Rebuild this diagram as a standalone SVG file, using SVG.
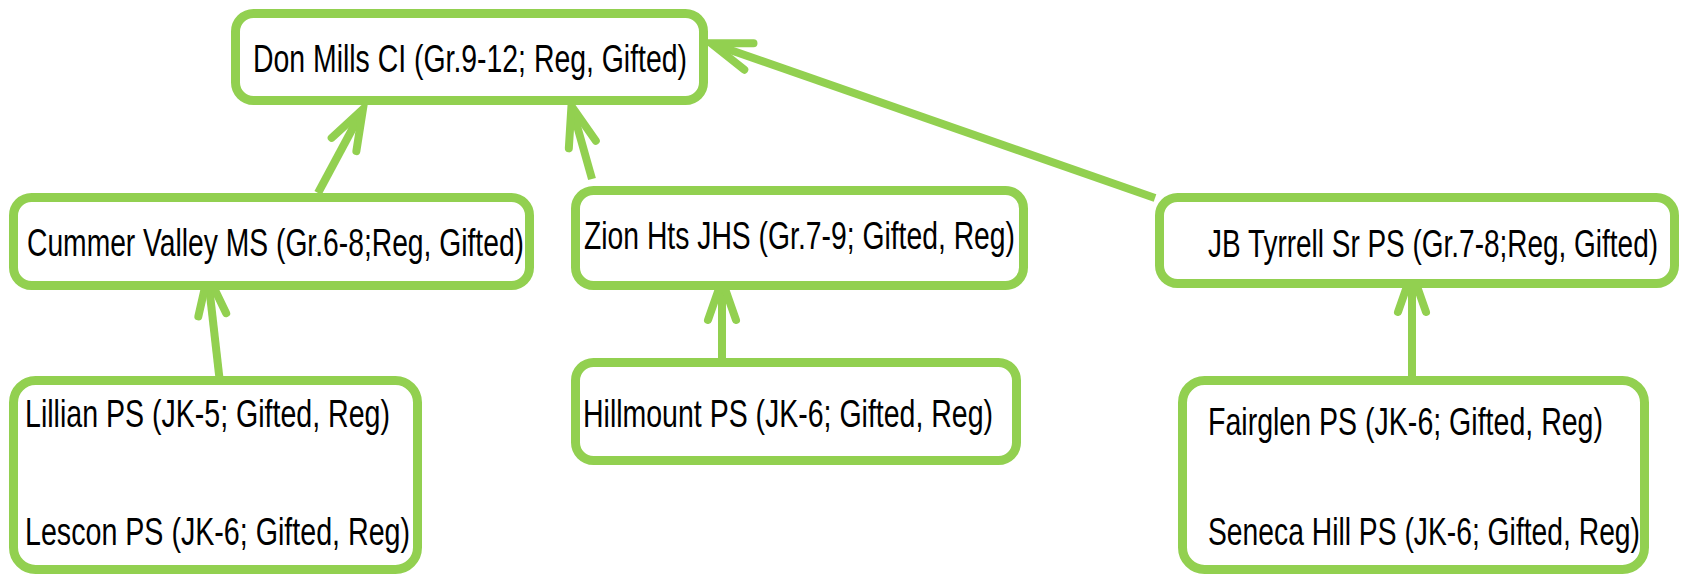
<svg xmlns="http://www.w3.org/2000/svg" width="1684" height="579" viewBox="0 0 1684 579">
<style>
.box{fill:#ffffff;stroke:#92d050;stroke-width:9}
.lbl{font-family:"Liberation Sans",Arial,sans-serif;font-size:39px;fill:#000000}
.con{fill:none;stroke:#92d050;stroke-width:8;stroke-linecap:butt}
</style>
<defs>
<marker id="arr" markerUnits="userSpaceOnUse" viewBox="-50 -25 60 50" refX="0" refY="0" markerWidth="60" markerHeight="50" orient="auto" overflow="visible">
<path d="M-38,-14 L2,0 L-38,14" fill="none" stroke="#92d050" stroke-width="8" stroke-linecap="round" stroke-linejoin="miter"/>
</marker>
</defs>
<rect width="1684" height="579" fill="#ffffff"/>
<g id="connectors">
<line class="con" x1="318" y1="193" x2="362" y2="111" marker-end="url(#arr)"/>
<line class="con" x1="592" y1="179" x2="572" y2="108" marker-end="url(#arr)"/>
<line class="con" x1="1155" y1="198" x2="713" y2="44" marker-end="url(#arr)"/>
<line class="con" x1="221" y1="392" x2="208" y2="277" marker-end="url(#arr)"/>
<line class="con" x1="722" y1="366" x2="722" y2="282" marker-end="url(#arr)"/>
<line class="con" x1="1412" y1="377" x2="1412" y2="274" marker-end="url(#arr)"/>
</g>
<g id="don-mills">
<rect class="box" x="235.5" y="13.5" width="468" height="87" rx="18"/>
<text class="lbl" x="253" y="72" textLength="434" lengthAdjust="spacingAndGlyphs">Don Mills CI (Gr.9-12; Reg, Gifted)</text>
</g>
<g id="cummer-valley">
<rect class="box" x="13.5" y="197.5" width="516" height="88" rx="18"/>
<text class="lbl" x="27" y="256" textLength="497" lengthAdjust="spacingAndGlyphs">Cummer Valley MS (Gr.6-8;Reg, Gifted)</text>
</g>
<g id="zion-hts">
<rect class="box" x="575.5" y="190.5" width="448" height="95" rx="18"/>
<text class="lbl" x="584" y="249" textLength="431" lengthAdjust="spacingAndGlyphs">Zion Hts JHS (Gr.7-9; Gifted, Reg)</text>
</g>
<g id="jb-tyrrell">
<rect class="box" x="1159.5" y="197.5" width="515" height="86" rx="18"/>
<text class="lbl" x="1208" y="257" textLength="450" lengthAdjust="spacingAndGlyphs">JB Tyrrell Sr PS (Gr.7-8;Reg, Gifted)</text>
</g>
<g id="lillian-lescon">
<rect class="box" x="13.5" y="380.5" width="404" height="189" rx="22"/>
<text class="lbl" x="25" y="427" textLength="365" lengthAdjust="spacingAndGlyphs">Lillian PS (JK-5; Gifted, Reg)</text>
<text class="lbl" x="25" y="545" textLength="385" lengthAdjust="spacingAndGlyphs">Lescon PS (JK-6; Gifted, Reg)</text>
</g>
<g id="hillmount">
<rect class="box" x="575.5" y="362.5" width="441" height="98" rx="18"/>
<text class="lbl" x="583" y="427" textLength="410" lengthAdjust="spacingAndGlyphs">Hillmount PS (JK-6; Gifted, Reg)</text>
</g>
<g id="fairglen-seneca">
<rect class="box" x="1182.5" y="380.5" width="462" height="189" rx="22"/>
<text class="lbl" x="1208" y="435" textLength="395" lengthAdjust="spacingAndGlyphs">Fairglen PS (JK-6; Gifted, Reg)</text>
<text class="lbl" x="1208" y="545" textLength="432" lengthAdjust="spacingAndGlyphs">Seneca Hill PS (JK-6; Gifted, Reg)</text>
</g>
</svg>
